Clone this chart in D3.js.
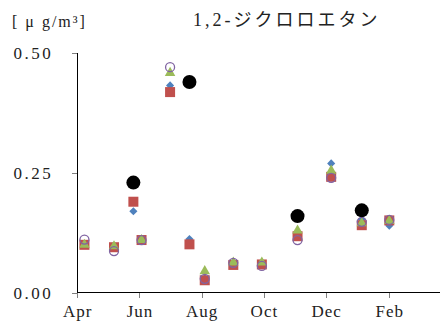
<!DOCTYPE html>
<html>
<head>
<meta charset="utf-8">
<script src="https://cdn.jsdelivr.net/npm/d3@7"></script>
<style>
  body { margin: 0; background: #fff; }
  text { font-family: "Liberation Serif", "Noto Sans CJK JP", serif; fill: #222; }
</style>
</head>
<body>
<svg id="chart" width="440" height="326"></svg>
<script>
// tick labels
const yTicks = [0, 0.25, 0.5];
const monthTicks = ["2023-04-01", "2023-06-01", "2023-08-01", "2023-10-01", "2023-12-01", "2024-02-01"];

// sampling dates and values per series
const blueDates = ["2023-04-08", "2023-05-07", "2023-05-26", "2023-07-01", "2023-07-20", "2023-08-04", "2023-09-01", "2023-09-29", "2023-11-03", "2023-12-06", "2024-01-05", "2024-02-01"];
const blueValues = [0.10, 0.095, 0.17, 0.433, 0.112, 0.03, 0.06, 0.06, 0.12, 0.27, 0.153, 0.14];

const redDates = ["2023-04-08", "2023-05-07", "2023-05-26", "2023-06-03", "2023-07-01", "2023-07-20", "2023-08-04", "2023-09-01", "2023-09-29", "2023-11-03", "2023-12-06", "2024-01-05", "2024-02-01"];
const redValues = [0.10, 0.095, 0.19, 0.11, 0.419, 0.101, 0.026, 0.058, 0.059, 0.118, 0.242, 0.141, 0.151];

const greenDates = ["2023-04-08", "2023-05-07", "2023-06-03", "2023-07-01", "2023-08-04", "2023-09-01", "2023-09-29", "2023-11-03", "2023-12-06", "2024-01-05", "2024-02-01"];
const greenValues = [0.10, 0.097, 0.11, 0.459, 0.045, 0.063, 0.063, 0.13, 0.255, 0.145, 0.15];

const purpleDates = ["2023-04-08", "2023-05-07", "2023-06-03", "2023-07-01", "2023-08-04", "2023-09-01", "2023-09-29", "2023-11-03", "2023-12-06", "2024-01-05", "2024-02-01"];
const purpleValues = [0.111, 0.087, 0.11, 0.471, 0.029, 0.0625, 0.056, 0.11, 0.24, 0.148, 0.152];

const blackDates = ["2023-05-26", "2023-07-20", "2023-11-03", "2024-01-05"];
const blackValues = [0.23, 0.44, 0.16, 0.172];

const parse = d3.timeParse("%Y-%m-%d");
const svg = d3.select("#chart");

const x = d3.scaleTime()
    .domain([parse("2023-04-01"), parse("2024-04-01")])
    .range([77.3, 77.3 + 366 * 1.0196]);
const y = d3.scaleLinear().domain([0, 0.5]).range([292.7, 53.3]);

const pts = (dates, vals) => dates.map((d, i) => ({ date: parse(d), value: vals[i] }));

// axes
const yAxis = svg.append("g").attr("transform", "translate(77.3,0)")
    .call(d3.axisLeft(y).tickValues(yTicks).tickSize(5).tickFormat(d3.format(".2f")));
yAxis.select(".domain").attr("stroke", "#000").attr("d", "M0,53.3V292.7");
yAxis.selectAll(".tick line").attr("stroke", "#808080");
yAxis.selectAll(".tick text").attr("x", -24).attr("font-size", 17).attr("letter-spacing", 2.5).attr("fill", "#222");

const xAxis = svg.append("g").attr("transform", "translate(0,292.7)")
    .call(d3.axisBottom(x).tickValues(monthTicks.map(parse)).tickSize(5).tickFormat(d3.timeFormat("%b")));
xAxis.select(".domain").attr("stroke", "#000").attr("d", "M77.3,0H440");
xAxis.selectAll(".tick line").attr("stroke", "#808080");
xAxis.selectAll(".tick text").attr("y", 12).attr("font-size", 17).attr("letter-spacing", 1).attr("fill", "#222");
svg.selectAll(".domain, .tick line").attr("shape-rendering", "crispEdges");

// series
svg.append("g").selectAll("path").data(pts(blueDates, blueValues)).join("path")
    .attr("d", d3.symbol(d3.symbolDiamond2, 42))
    .attr("transform", d => `translate(${x(d.date)},${y(d.value)})`)
    .attr("fill", "#4F81BD");

svg.append("g").selectAll("rect").data(pts(redDates, redValues)).join("rect")
    .attr("x", d => x(d.date) - 5).attr("y", d => y(d.value) - 5)
    .attr("width", 10).attr("height", 10)
    .attr("fill", "#C0504D");

svg.append("g").selectAll("path").data(pts(greenDates, greenValues)).join("path")
    .attr("d", d3.symbol(d3.symbolTriangle, 48))
    .attr("transform", d => `translate(${x(d.date)},${y(d.value)})`)
    .attr("fill", "#9BBB59");

svg.append("g").selectAll("circle").data(pts(purpleDates, purpleValues)).join("circle")
    .attr("cx", d => x(d.date)).attr("cy", d => y(d.value)).attr("r", 4.5)
    .attr("fill", "none").attr("stroke", "#8064A2").attr("stroke-width", 1.3);

svg.append("g").selectAll("circle").data(pts(blackDates, blackValues)).join("circle")
    .attr("cx", d => x(d.date)).attr("cy", d => y(d.value)).attr("r", 7)
    .attr("fill", "#000");

// labels
svg.append("text").attr("x", 12).attr("y", 27).attr("font-size", 16).attr("letter-spacing", 2).text("[ μ g/m³]");
svg.append("text").attr("x", 193).attr("y", 26).attr("font-size", 18).attr("letter-spacing", 3).text("1,2-ジクロロエタン");
</script>
</body>
</html>
